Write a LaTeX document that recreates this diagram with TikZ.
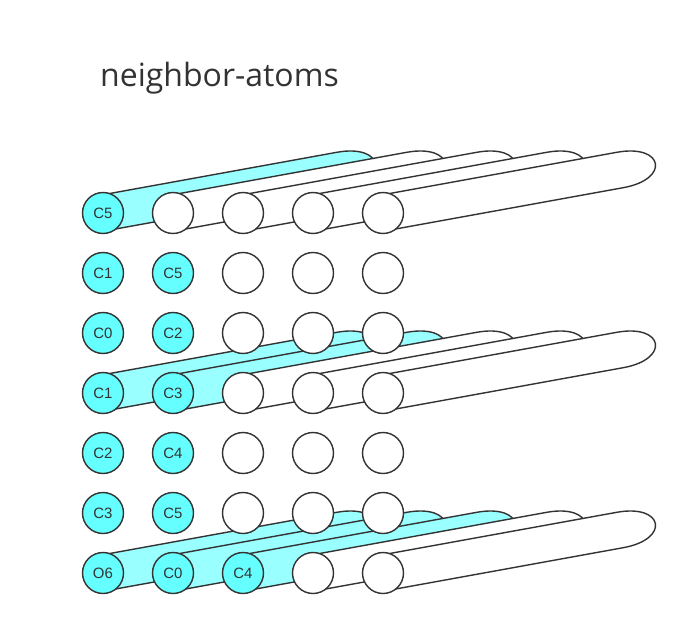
\documentclass[tikz,border=0pt]{standalone}
\usepackage{fontspec}
\setmainfont{Liberation Sans}
\newfontfamily\titlefont{Open Sans}
\usetikzlibrary{calc}
\usetikzlibrary{backgrounds}
\definecolor{atomcyan}{HTML}{66FFFF}
\definecolor{bondcyan}{HTML}{99FFFF}
\definecolor{inkgray}{HTML}{333333}
\newcommand{\bond}[2]{\filldraw[tube,fill=#2] ($(#1)+(-3.2,-17.7)$) -- ($(#1)+(233.8,-60.7)$)
  .. controls ($(#1)+(281,-69.2)$) and ($(#1)+(287.4,-33.8)$) .. ($(#1)+(240.2,-25.3)$)
  -- ($(#1)+(3.2,17.7)$) -- cycle;}

\begin{document}
\begin{tikzpicture}[x=1pt,y=-1pt,
  atom/.style={draw=inkgray,line width=1.4pt,circle,minimum size=41pt,inner sep=0pt,fill=white,
    font=\fontsize{15}{15}\selectfont,text=inkgray},
  tube/.style={draw=inkgray,line width=1.4pt,line join=round}]
\useasboundingbox (0,0) rectangle (691,626);
\node[anchor=base west,inner sep=0pt,text=inkgray,font=\titlefont\fontsize{32}{32}\selectfont] (title) at (100,86) {neighbor-atoms};

\foreach \r/\c/\t in {1/1/C5,2/1/C1,2/2/C5,3/1/C0,3/2/C2,4/1/C1,4/2/C3,5/1/C2,5/2/C4,6/1/C3,6/2/C5,7/1/O6,7/2/C0,7/3/C4}
  \node[atom,fill=atomcyan] (a-\r-\c) at (33+70*\c,153+60*\r) {\t};
\foreach \r/\k in {1/2,2/3,3/3,4/3,5/3,6/3,7/4}
  \foreach \c in {\k,...,5}
    \node[atom] (a-\r-\c) at (33+70*\c,153+60*\r) {};

\begin{scope}[on background layer]
\foreach \r/\n [evaluate=\n as \m using int(\n+1)] in {1/1,4/2,7/3}{
  \foreach \c in {1,...,\n} {\bond{a-\r-\c}{bondcyan}}
  \foreach \c in {\m,...,5} {\bond{a-\r-\c}{white}}
}
\end{scope}
\end{tikzpicture}
\end{document}
